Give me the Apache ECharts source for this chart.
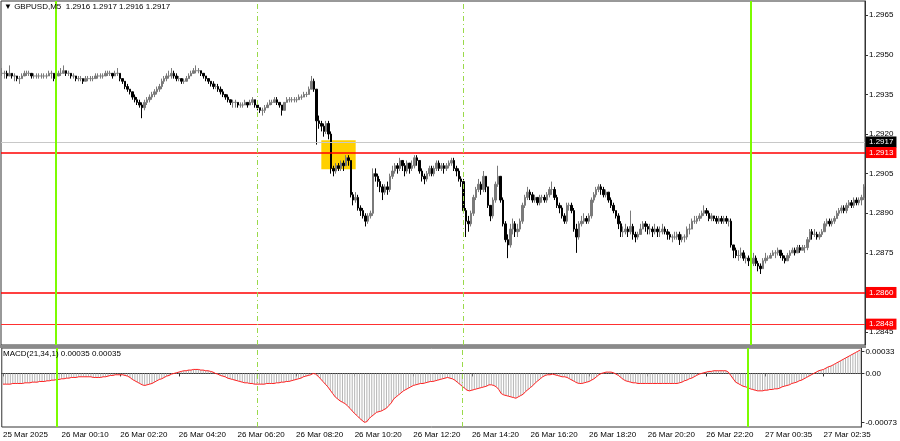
<!DOCTYPE html>
<html><head><meta charset="utf-8">
<script src="https://cdn.jsdelivr.net/npm/echarts@6/dist/echarts.min.js"></script>
<style>html,body{margin:0;padding:0;background:#fff}#c{width:900px;height:441px}</style>
</head><body><div id="c"></div>
<script>
// Time-axis labels, one every 24 bars (M5)
const tickLabels = ['25 Mar 2025','26 Mar 00:10','26 Mar 02:20','26 Mar 04:20','26 Mar 06:20','26 Mar 08:20','26 Mar 10:20','26 Mar 12:20','26 Mar 14:20','26 Mar 16:20','26 Mar 18:20','26 Mar 20:20','26 Mar 22:20','27 Mar 00:35','27 Mar 02:35'];
const priceTicks = [1.2845,1.2860,1.2875,1.2890,1.2905,1.2920,1.2935,1.2950,1.2965];
const macdTicks = [-0.00073,0,0.00033];

// GBPUSD M5 prices, in pips above 1.28000
const closePips = [
143,143,142,143,142,142,141,141,142,143, 143,143,142,142,142,142,142,142,142,143,
143,141,142,143,143,144,143,143,142,142, 141,141,141,140,141,141,141,141,142,142,
142,142,143,143,143,142,143,143,141,140, 138,137,136,134,133,132,131,130,132,133,
134,135,136,137,138,140,141,142,142,143, 142,141,141,140,140,141,142,143,144,144,
144,143,142,141,140,139,138,138,137,136, 135,134,133,132,132,132,131,131,131,132,
131,132,133,131,130,129,129,130,131,132, 132,133,132,131,129,132,133,133,133,133,
133,134,134,135,135,137,140,137,125,124, 123,121,124,120,107,106,108,107,109,108,
111,110,97,95,96,92,91,89,87,89, 90,105,104,102,100,98,100,99,104,106,
108,107,110,108,106,109,107,108,111,110, 106,104,103,105,107,105,107,109,107,108,
107,108,109,110,107,106,103,102,91,87, 86,90,96,99,101,99,104,100,93,89,
95,101,104,95,86,80,78,84,86,83, 84,87,93,96,98,97,95,96,94,96,
96,95,97,99,99,96,93,92,89,87, 93,93,91,84,81,86,87,88,87,89,
95,97,99,100,99,97,98,95,93,91, 89,86,83,83,84,83,85,82,81,82,
84,86,85,84,84,83,84,83,83,84, 83,82,81,81,81,82,80,81,81,84,
84,87,87,88,89,90,91,90,88,89, 88,87,88,87,88,87,87,78,76,74,
74,75,73,73,72,71,73,71,70,69, 72,73,73,74,75,75,76,74,73,72,
74,75,76,75,77,76,77,77,80,83, 82,82,81,82,83,86,87,86,87,88,
90,91,92,91,93,94,93,95,94,95,96,100];
const highPips = [
145,144,144,146,143,143,142,142,143,144, 144,144,143,143,143,143,143,143,143,144,
144,143,143,144,145,146,144,144,143,143, 142,142,142,141,142,142,142,142,143,143,
143,143,144,144,144,143,144,145,143,141, 140,139,137,136,135,134,133,132,133,134,
135,136,137,138,139,141,142,143,144,145, 144,143,142,141,141,142,143,144,145,146,
145,144,143,142,141,140,140,139,139,138, 137,135,135,133,133,133,132,132,132,133,
132,133,134,133,131,130,130,131,132,133, 133,134,134,132,131,132,134,134,134,134,
134,135,135,136,136,138,142,141,137,127, 125,124,125,125,121,108,109,109,110,110,
112,112,110,98,98,97,93,92,90,90, 91,107,107,105,103,101,101,102,105,108,
109,109,111,110,109,110,109,110,112,112, 110,107,105,106,108,108,108,110,110,109,
109,109,110,111,111,108,107,104,103,92, 89,91,97,100,103,102,106,104,100,93,
96,102,108,104,96,87,82,86,88,87, 86,88,94,97,100,99,98,97,96,97,
97,97,98,100,102,100,97,94,93,90, 94,94,94,92,86,87,89,90,89,90,
96,98,100,101,101,100,99,98,96,94, 91,90,87,85,86,85,91,86,83,83,
86,87,87,86,86,85,86,85,85,86, 85,84,83,82,83,83,83,82,82,85,
86,88,89,89,90,91,93,92,91,90, 89,89,89,89,89,89,88,88,78,77,
76,77,76,74,74,73,75,74,72,71, 73,75,74,75,76,76,77,76,75,74,
75,76,77,77,78,78,78,78,81,84, 84,84,83,83,84,87,88,88,88,89,
91,92,93,93,94,95,95,96,96,96,97,101];
const lowPips = [
142,141,141,142,141,140,140,139,141,142, 142,142,141,141,141,141,141,141,141,142,
141,140,140,142,142,143,142,142,141,141, 140,140,140,139,140,140,140,140,141,141,
141,141,142,142,142,141,142,142,140,139, 137,136,135,133,132,131,130,126,129,131,
132,133,134,135,136,137,139,140,141,141, 141,140,140,139,139,140,141,142,143,143,
143,142,141,140,139,138,137,137,136,135, 134,133,132,131,130,130,130,130,130,131,
130,131,131,130,129,128,127,128,130,131, 131,132,131,130,127,129,132,132,132,132,
132,133,133,134,134,135,137,136,116,122, 121,119,120,118,105,104,105,106,106,106,
108,108,96,93,94,91,89,88,85,86, 88,89,102,100,98,95,97,97,98,103,
105,105,106,106,104,105,105,106,107,108, 105,102,101,102,104,104,104,106,106,106,
105,106,107,108,106,104,102,100,90,81, 83,85,89,95,98,97,98,98,92,87,
88,94,100,94,85,79,73,77,82,81, 81,83,86,92,95,95,94,94,93,93,
94,94,94,96,97,95,92,90,88,86, 86,91,90,83,75,80,85,86,86,86,
88,94,96,98,97,96,96,94,92,90, 88,84,81,81,82,81,82,80,79,80,
82,84,83,82,82,81,82,81,81,82, 82,80,80,79,80,80,78,79,79,80,
82,84,86,86,87,88,89,89,87,87, 87,86,86,86,86,86,85,77,73,73,
72,73,72,71,70,69,70,70,68,67, 69,71,72,73,74,73,74,73,72,71,
72,73,75,74,75,75,76,75,76,79, 80,81,80,80,81,83,85,85,85,86,
88,89,90,90,90,92,92,92,93,93,93,95];
// MACD(21,34,1) main values in units of 0.00001 (signal SMA(1) equals main)
const macdPts = [
-16,-16,-16,-16,-15,-15,-15,-15,-15,-14, -14,-14,-13,-13,-13,-12,-12,-12,-11,-11,
-10,-10,-9,-9,-8,-8,-7,-7,-6,-6, -6,-5,-5,-5,-5,-5,-5,-6,-6,-6,
-6,-5,-5,-4,-3,-3,-2,-2,-2,-2, -3,-4,-6,-9,-11,-13,-15,-17,-18,-17,
-16,-15,-13,-11,-9,-8,-6,-4,-3,-1, 0,1,2,3,4,4,5,5,6,6,
6,5,5,4,4,3,2,0,-1,-3, -4,-5,-7,-8,-9,-10,-11,-12,-13,-14,
-14,-15,-15,-16,-16,-16,-16,-16,-15,-15, -15,-15,-14,-14,-13,-13,-12,-12,-11,-10,
-9,-8,-7,-5,-4,-3,-2,0,-1,-4, -8,-12,-16,-20,-25,-30,-35,-38,-41,-43,
-45,-48,-52,-56,-60,-63,-67,-70,-73,-72, -67,-64,-61,-58,-57,-56,-54,-52,-48,-44,
-38,-35,-32,-29,-26,-24,-22,-20,-18,-17, -16,-15,-15,-14,-13,-12,-12,-11,-10,-9,
-8,-7,-6,-7,-8,-10,-13,-16,-19,-22, -25,-26,-25,-24,-23,-22,-21,-20,-19,-17,
-17,-18,-20,-24,-30,-32,-33,-34,-35,-36, -37,-35,-33,-31,-27,-24,-21,-18,-14,-11,
-8,-5,-3,-2,-2,-1,-2,-3,-4,-5, -5,-6,-8,-10,-12,-14,-15,-15,-14,-13,
-12,-10,-8,-5,-2,0,1,2,2,2, 1,-1,-3,-6,-9,-11,-12,-13,-14,-14,
-15,-15,-15,-15,-15,-15,-15,-15,-15,-15, -15,-15,-15,-15,-15,-15,-15,-14,-13,-11,
-10,-8,-7,-5,-3,-1,0,1,2,3, 3,4,4,4,4,4,4,2,-3,-8,
-13,-15,-17,-19,-20,-21,-23,-24,-25,-26, -26,-26,-25,-25,-24,-24,-23,-23,-22,-20,
-19,-18,-17,-15,-14,-13,-11,-10,-8,-6, -4,-2,0,2,4,5,6,8,10,11,
13,15,17,19,21,23,25,27,29,31,33,35];

// Levels and marks
const bidLevel = 1.2917;
const redLevels = [1.2913, 1.2860];
const thinRedLevel = 1.2848;
const zoneBars = ['130','144'];
const zonePrices = [1.29067, 1.29177];
const sessionSolid = ['22','305'];
const sessionDashed = ['104','188'];

const BASE = 1.28, PIP = 0.0001;
const categories = closePips.map((_, i) => String(i));
const candles = closePips.map((c, i) => {
  const o = i ? closePips[i - 1] : c;
  const lo = Math.min(lowPips[i], o, c), hi = Math.max(highPips[i], o, c);
  return [o, c, lo, hi].map(v => +(BASE + v * PIP).toFixed(5));
});
const macd = macdPts.map(v => v / 1e5);
const signal = macd.slice();

const FONT = 'Liberation Sans';
const txt = {fontFamily: FONT, fontSize: 8, color: '#000'};
const boxLabel = (bg, v) => ({show: true, position: 'end', distance: 1, formatter: v.toFixed(4),
  color: '#fff', backgroundColor: bg, padding: [2, 3, 1, 3], fontFamily: FONT, fontSize: 8});
const vLines = () => sessionSolid.map(x => ({xAxis: x, lineStyle: {color: '#7cfc00', width: 2, type: 'solid'}, label: {show: false}}))
  .concat(sessionDashed.map(x => ({xAxis: x, lineStyle: {color: '#9ad94a', width: 1, type: [5, 3, 1, 3]}, label: {show: false}})));

const chart = echarts.init(document.getElementById('c'), null, {renderer: 'canvas'});
chart.setOption({
  animation: false,
  backgroundColor: '#fff',
  title: [
    {text: '\u25BC GBPUSD,M5  1.2916 1.2917 1.2916 1.2917', left: 4, top: 3, padding: 0, textStyle: {fontFamily: FONT, fontSize: 8, fontWeight: 'normal', color: '#000'}},
    {text: 'MACD(21,34,1) 0.00035 0.00035', left: 3, top: 350, padding: 0, textStyle: {fontFamily: FONT, fontSize: 8, fontWeight: 'normal', color: '#000'}}
  ],
  graphic: [{type: 'rect', shape: {x: 0, y: 345, width: 866, height: 3}, style: {fill: '#8a8a8a'}, z: 100}],
  grid: [
    {left: 1, right: 35, top: 1, height: 344, show: true, borderColor: '#333', borderWidth: 1, backgroundColor: '#fff'},
    {left: 1, right: 35, top: 348, height: 79, show: true, borderColor: '#333', borderWidth: 1, backgroundColor: '#fff'}
  ],
  xAxis: [
    {type: 'category', gridIndex: 0, data: categories, boundaryGap: true,
     axisLine: {show: false}, axisTick: {show: false}, axisLabel: {show: false}, splitLine: {show: false}},
    {type: 'category', gridIndex: 1, data: categories, boundaryGap: true,
     axisLine: {show: true, lineStyle: {color: '#333'}},
     axisTick: {show: true, alignWithLabel: true, length: 3, interval: (i) => i % 24 === 0, lineStyle: {color: '#333'}},
     axisLabel: {show: true, ...txt, align: 'left', margin: 4, interval: (i) => i % 24 === 0,
       formatter: (v, i) => tickLabels[i / 24] || ''},
     splitLine: {show: false}}
  ],
  yAxis: [
    {type: 'value', gridIndex: 0, position: 'right', min: 1.28401, max: 1.29704,
     axisLine: {show: true, lineStyle: {color: '#333'}},
     axisTick: {show: true, length: 3, customValues: priceTicks, lineStyle: {color: '#333'}},
     axisLabel: {...txt, margin: 4, customValues: priceTicks, formatter: v => v.toFixed(4)},
     splitLine: {show: false}},
    {type: 'value', gridIndex: 1, position: 'right', min: -0.00080, max: 0.00038,
     axisLine: {show: true, lineStyle: {color: '#333'}},
     axisTick: {show: true, length: 3, customValues: macdTicks, lineStyle: {color: '#333'}},
     axisLabel: {...txt, margin: 4, customValues: macdTicks, formatter: v => Math.abs(v) < 1e-9 ? '0.00' : v.toFixed(5)},
     splitLine: {show: false}}
  ],
  series: [
    {type: 'line', xAxisIndex: 0, yAxisIndex: 0, data: [], silent: true, z: 1,
     markArea: {silent: true, itemStyle: {color: '#ffd000'},
       data: [[{xAxis: zoneBars[0], yAxis: zonePrices[0]}, {xAxis: zoneBars[1], yAxis: zonePrices[1]}]]},
     markLine: {silent: true, symbol: ['none', 'none'], animation: false, precision: 5,
       data: [
         {yAxis: bidLevel, lineStyle: {color: '#c8c8c8', width: 1, type: 'solid'}, label: boxLabel('#000', bidLevel)},
         ...redLevels.map(v => ({yAxis: v, lineStyle: {color: '#ff0000', width: 1.5, type: 'solid'}, label: boxLabel('#ff0000', v)})),
         {yAxis: thinRedLevel, lineStyle: {color: '#ff3030', width: 1, type: 'solid'}, label: boxLabel('#ff0000', thinRedLevel)},
         ...vLines()
       ]}
    },
    {type: 'candlestick', xAxisIndex: 0, yAxisIndex: 0, data: candles, barWidth: 2, z: 3,
     itemStyle: {color: '#7a7a7a', color0: '#000', borderColor: '#7a7a7a', borderColor0: '#000', borderWidth: 1},
     silent: true},
    {type: 'bar', xAxisIndex: 1, yAxisIndex: 1, data: macd, barWidth: 1, silent: true,
     itemStyle: {color: '#b4b4b4'},
     markLine: {silent: true, symbol: ['none', 'none'], animation: false, precision: 5, data: vLines()}},
    {type: 'line', xAxisIndex: 1, yAxisIndex: 1, data: signal, showSymbol: false, silent: true,
     lineStyle: {color: '#ff2020', width: 1}}
  ]
});
</script></body></html>
